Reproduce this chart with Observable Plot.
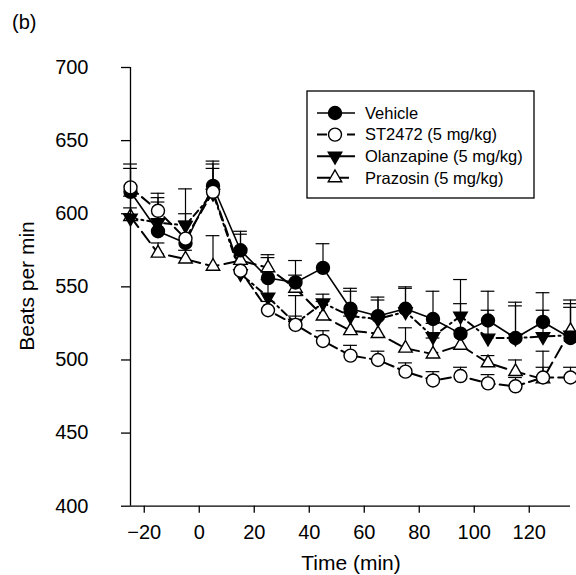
<!DOCTYPE html>
<html><head><meta charset="utf-8">
<script src="https://cdn.jsdelivr.net/npm/d3@7"></script>
<script src="https://cdn.jsdelivr.net/npm/@observablehq/plot@0.6"></script>
<style>body{margin:0;background:#fff;} #chart svg{display:block;}</style>
</head><body><div id="chart"></div>
<script>
// ---- data ----
const times = [-25,-15,-5,5,15,25,35,45,55,65,75,85,95,105,115,125,135];
const seriesNames = ["Vehicle", "ST2472 (5 mg/kg)", "Olanzapine (5 mg/kg)", "Prazosin (5 mg/kg)"];
const vehicle     = [615, 588, 580, 619, 575, 556, 553, 563, 535, 530, 535, 528, 518, 527, 515, 526, 515];
const vehicleSem  = [16, 23, 15, 17, 13, 14, 15, 16.5, 14, 13, 15, 19, 20.5, 20, 24.5, 20, 23.5];
const st2472      = [618, 602, 583, 615, 561, 534, 524, 513, 503, 500, 492, 486, 489, 484, 482, 488, 488];
const st2472Sem   = [16, 12, 17, 16, 14, 6, 6, 7, 7, 6, 6, 6, 6, 6, 6, 7, 7];
const olanzapine  = [597, 594, 592, 614, 559, 543, 525, 539, 530, 528, 533, 516, 530, 515, 515, 516, 517];
const olanzSem    = [15, 14, 25, 20, 27, 12, 19, 6, 17, 13, 16, 9, 25, 19, 22, 18, 24];
const prazosin    = [598, 573, 569, 564, 568, 563, 549, 530, 520, 518, 508, 504, 510, 498, 492, 487, 520];
const prazSem     = [6, 7, 6, 21, 7, 9, 9, 10, 10, 10, 14, 11, 10, 5, 8, 19, 16];
const xTicks = [-20, 0, 20, 40, 60, 80, 100, 120];
const yTicks = [400, 450, 500, 550, 600, 650, 700];

// ---- styles ----
const FONT = "'Liberation Sans', Arial, Helvetica, sans-serif";
const triangleDown = {
  draw(ctx, size) {
    const y = Math.sqrt(size / (Math.sqrt(3) * 3));
    ctx.moveTo(0, y * 2);
    ctx.lineTo(-Math.sqrt(3) * y, -y);
    ctx.lineTo(Math.sqrt(3) * y, -y);
    ctx.closePath();
  }
};
const styles = {
  "Vehicle":              {values: vehicle,    sem: vehicleSem, symbol: "circle",   fill: "black", dash: null,     legDash: null,     r: 6.5, lw: 1.6},
  "ST2472 (5 mg/kg)":     {values: st2472,     sem: st2472Sem,  symbol: "circle",   fill: "white", dash: "10,5",   legDash: "10,5",   r: 6.5, lw: 2},
  "Olanzapine (5 mg/kg)": {values: olanzapine, sem: olanzSem,   symbol: triangleDown, fill: "black", dash: "7,4,2,4", legDash: null,   r: 5, lw: 2},
  "Prazosin (5 mg/kg)":   {values: prazosin,   sem: prazSem,    symbol: "triangle", fill: "white", dash: "13,6",   legDash: "13,6",   r: 5, lw: 2}
};

const rows = seriesNames.flatMap(name => times.map((t, i) => ({
  series: name, t, v: styles[name].values[i], top: styles[name].values[i] + styles[name].sem[i]
})));

const drawOrder = ["Prazosin (5 mg/kg)", "Olanzapine (5 mg/kg)", "Vehicle", "ST2472 (5 mg/kg)"];
const marks = [
  Plot.ruleX(rows, {x: "t", y1: "v", y2: "top", stroke: "black", strokeWidth: 1.2}),
  Plot.ruleY(rows, {y: "top", x1: d => d.t - 2.5, x2: d => d.t + 2.5, stroke: "black", strokeWidth: 1.2}),
  ...drawOrder.map(name => Plot.line(rows.filter(d => d.series === name), {
    x: "t", y: "v", stroke: "black", strokeWidth: styles[name].lw, strokeDasharray: styles[name].dash
  })),
  ...drawOrder.map(name => Plot.dot(rows.filter(d => d.series === name), {
    x: "t", y: "v", r: styles[name].r, symbol: styles[name].symbol,
    fill: styles[name].fill, stroke: "black", strokeWidth: 1.4
  })),
  Plot.ruleX([-25], {y1: 400, y2: 700, stroke: "black", strokeWidth: 1.3}),
  Plot.ruleY([400], {x1: -25, x2: 135, stroke: "black", strokeWidth: 1.3}),
  Plot.axisY({ticks: yTicks, tickSize: 9, tickPadding: 33, tickFormat: d => String(d), label: null, fontSize: 20, strokeWidth: 1.3}),
  Plot.axisX({ticks: xTicks, tickSize: 7, tickPadding: 12, tickFormat: d => d < 0 ? "\u2212" + Math.abs(d) : String(d), label: null, fontSize: 20, strokeWidth: 1.3})
];

const chart = Plot.plot({
  width: 576, height: 575,
  marginLeft: 130, marginRight: 6, marginTop: 67, marginBottom: 69.3,
  x: {domain: [-25, 135]},
  y: {domain: [400, 700]},
  style: {fontFamily: FONT, fontSize: "20px", color: "black", background: "white", overflow: "visible"},
  marks
});
document.getElementById("chart").appendChild(chart);

// ---- titles & legend ----
const svg = d3.select(chart);
svg.append("text").attr("x", 12).attr("y", 29).attr("text-anchor", "start")
  .attr("font-size", 20).attr("font-family", FONT).text("(b)");
svg.append("text").attr("x", 351).attr("y", 570).attr("text-anchor", "middle")
  .attr("font-size", 21).attr("font-family", FONT).text("Time (min)");
svg.append("text").attr("transform", "translate(34,286) rotate(-90)").attr("text-anchor", "middle")
  .attr("font-size", 21).attr("font-family", FONT).text("Beats per min");

const lg = svg.append("g");
lg.append("rect").attr("x", 307).attr("y", 91).attr("width", 227).attr("height", 107)
  .attr("fill", "white").attr("stroke", "black").attr("stroke-width", 1.3);
seriesNames.forEach((name, i) => {
  const s = styles[name];
  const y = 113 + i * 21.6;
  lg.append("line").attr("x1", 317).attr("x2", 355).attr("y1", y).attr("y2", y)
    .attr("stroke", "black").attr("stroke-width", s.lw).attr("stroke-dasharray", s.legDash);
  const type = s.symbol === "circle" ? d3.symbolCircle : s.symbol === "triangle" ? d3.symbolTriangle : triangleDown;
  lg.append("path").attr("d", d3.symbol(type, Math.PI * s.r * s.r)())
    .attr("transform", `translate(335,${y})`).attr("fill", s.fill).attr("stroke", "black").attr("stroke-width", 1.4);
  lg.append("text").attr("x", 365).attr("y", y).attr("dy", "0.35em").attr("text-anchor", "start")
    .attr("font-size", 16.5).attr("font-family", FONT).text(name);
});
</script>
</body></html>
